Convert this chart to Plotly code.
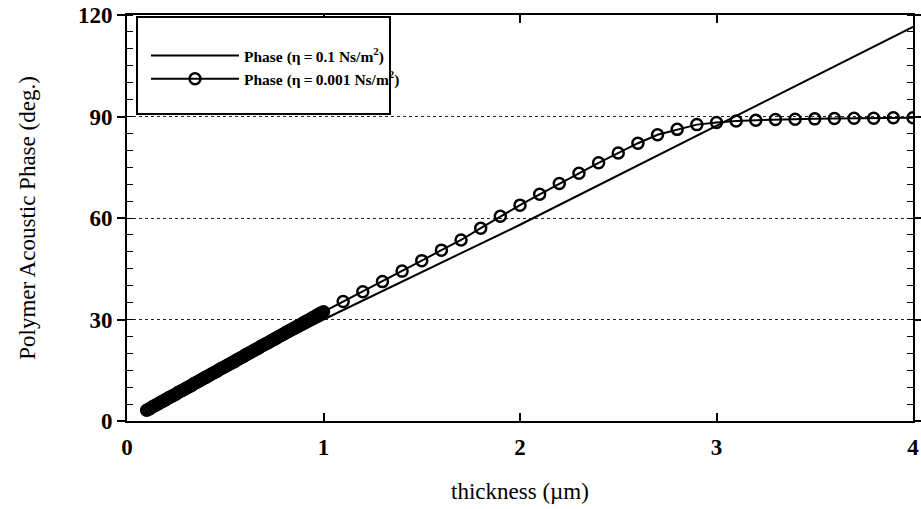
import plotly.graph_objects as go

# eta = 0.1 Ns/m^2 (solid line)
x_a = [0.1, 1.0, 2.0, 3.0, 4.0]
y_a = [3.0, 30.0, 58.0, 87.2, 116.5]

# eta = 0.001 Ns/m^2 (line with open markers): dense part 0.10..1.00 (step 0.01), then 1.1..4.0
x_b_dense = [round(0.10 + 0.01 * i, 2) for i in range(91)]
y_b_dense = [3.2, 3.5, 3.8, 4.2, 4.5, 4.8, 5.1, 5.5, 5.8, 6.1,
             6.4, 6.8, 7.1, 7.4, 7.7, 8.0, 8.4, 8.7, 9.0, 9.3,
             9.7, 10.0, 10.3, 10.6, 11.0, 11.3, 11.6, 11.9, 12.3, 12.6,
             12.9, 13.2, 13.5, 13.9, 14.2, 14.5, 14.8, 15.2, 15.5, 15.8,
             16.1, 16.5, 16.8, 17.1, 17.4, 17.7, 18.1, 18.4, 18.7, 19.0,
             19.4, 19.7, 20.0, 20.3, 20.7, 21.0, 21.3, 21.6, 22.0, 22.3,
             22.6, 22.9, 23.2, 23.6, 23.9, 24.2, 24.5, 24.9, 25.2, 25.5,
             25.8, 26.2, 26.5, 26.8, 27.1, 27.4, 27.8, 28.1, 28.4, 28.7,
             29.1, 29.4, 29.7, 30.0, 30.4, 30.7, 31.0, 31.3, 31.7, 32.0, 32.3]
x_b_sparse = [1.1, 1.2, 1.3, 1.4, 1.5, 1.6, 1.7, 1.8, 1.9, 2.0,
              2.1, 2.2, 2.3, 2.4, 2.5, 2.6, 2.7, 2.8, 2.9, 3.0,
              3.1, 3.2, 3.3, 3.4, 3.5, 3.6, 3.7, 3.8, 3.9, 4.0]
y_b_sparse = [35.3, 38.2, 41.2, 44.3, 47.4, 50.5, 53.5, 57.0, 60.5, 63.8,
              67.0, 70.2, 73.2, 76.3, 79.2, 82.1, 84.6, 86.2, 87.6, 88.2,
              88.7, 88.9, 89.1, 89.2, 89.3, 89.4, 89.5, 89.5, 89.6, 89.6]

x_ticks = [0, 1, 2, 3, 4]
y_ticks = [0, 30, 60, 90, 120]

name_a = "Phase (\u03b7\u2009=\u20090.1 Ns/m<sup>2</sup>)"
name_b = "Phase (\u03b7\u2009=\u20090.001 Ns/m<sup>2</sup>)"

FONT = "Liberation Serif"

fig = go.Figure()
fig.add_trace(go.Scatter(
    x=x_a, y=y_a, mode="lines", name=f"<b>{name_a}</b>",
    line=dict(color="black", width=2),
))
fig.add_trace(go.Scatter(
    x=x_b_dense + x_b_sparse, y=y_b_dense + y_b_sparse,
    mode="lines+markers", name=f"<b>{name_b}</b>",
    line=dict(color="black", width=2),
    marker=dict(symbol="circle-open", size=11, color="black",
                line=dict(width=2.5, color="black")),
))

# legend frame
fig.add_shape(type="rect", xref="paper", yref="paper",
              x0=(137 - 127) / 786, x1=(390 - 127) / 786,
              y0=(421 - 114) / 406, y1=(421 - 17) / 406,
              line=dict(color="black", width=2), fillcolor="white", layer="above")

fig.update_layout(
    width=921, height=509,
    margin=dict(l=127, r=8, t=15, b=88, autoexpand=False),
    paper_bgcolor="white", plot_bgcolor="white",
    font=dict(family=FONT, color="black", size=18),
    showlegend=True,
    legend=dict(
        x=(146 - 127) / 786, y=(421 - 39) / 406, xanchor="left", yanchor="top",
        bgcolor="rgba(0,0,0,0)", borderwidth=0,
        font=dict(family=FONT, size=15.5, color="black"),
        itemwidth=88, tracegroupgap=0,
    ),
    xaxis=dict(
        range=[0, 4], tickvals=x_ticks, ticktext=[f"<b>{v}</b>" for v in x_ticks],
        showgrid=False, zeroline=False, automargin=False,
        showline=True, linecolor="black", linewidth=2, mirror="ticks",
        ticks="inside", ticklen=8, tickwidth=1.5, tickcolor="black",
        ticklabelstandoff=4,
        tickfont=dict(family=FONT, size=23),
        title=dict(text="thickness (\u00b5m)", font=dict(family=FONT, size=23), standoff=24),
    ),
    yaxis=dict(
        range=[0, 120], tickvals=y_ticks, ticktext=[f"<b>{v}</b>" for v in y_ticks],
        showgrid=True, gridcolor="#222", griddash="dot", gridwidth=1,
        zeroline=False, automargin=False,
        showline=True, linecolor="black", linewidth=2, mirror="ticks",
        ticks="outside", ticklen=8, tickwidth=1.5, tickcolor="black",
        minor=dict(dtick=5, ticks="inside", ticklen=6, tickwidth=1, tickcolor="black", showgrid=False),
        tickfont=dict(family=FONT, size=23),
        title=dict(text="Polymer Acoustic Phase (deg.)", font=dict(family=FONT, size=23), standoff=36),
    ),
)

fig.write_html("out.html")
